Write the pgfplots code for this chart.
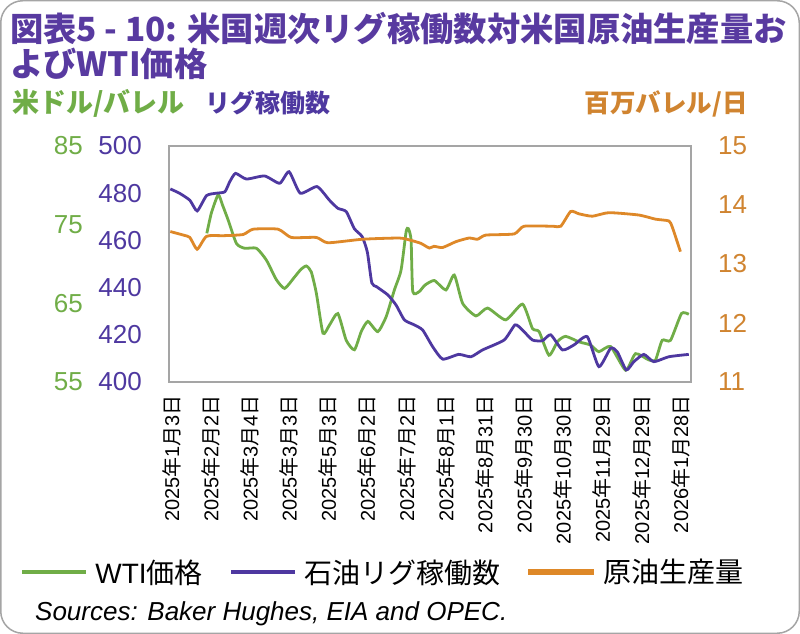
\documentclass[border=0pt]{standalone}
\usepackage{fontspec}
\usepackage{pgfplots}
\pgfplotsset{compat=1.18}
\setmainfont{Liberation Sans}
\newfontfamily\cjk{Noto Sans CJK JP}

\definecolor{wtigreen}{RGB}{112,173,71}
\definecolor{rigpurple}{RGB}{78,56,160}
\definecolor{titlepurple}{RGB}{88,58,160}
\definecolor{prodorange}{RGB}{222,136,40}
\definecolor{labelorange}{RGB}{208,132,48}
\definecolor{framegray}{RGB}{165,165,165}

% date label: year, month, day
\newcommand{\dt}[3]{#1{\cjk 年}#2{\cjk 月}#3{\cjk 日}}

\pgfplotsset{
  base/.style={
    at={(169bp,252bp)}, anchor=south west,
    scale only axis, width=522bp, height=236bp,
    xmin=-2, xmax=398,
    major tick length=0pt,
    /pgf/number format/assume math mode=true,
    /pgf/number format/1000 sep={},
  },
  series/.style={line width=2.8bp, smooth, tension=0.35},
}

\begin{document}
\begin{tikzpicture}
\draw[draw=framegray, line width=1.5bp, rounded corners=22bp, fill=white]
  (0.75bp,0.75bp) rectangle (799.25bp,633.25bp);

% title
\node[anchor=base west, inner sep=0pt, text=titlepurple] at (10bp,592bp)
  {\cjk\bfseries\fontsize{33.3bp}{37bp}\selectfont 図表5 - 10: 米国週次リグ稼働数対米国原油生産量お};
\node[anchor=base west, inner sep=0pt, text=titlepurple] at (10bp,557bp)
  {\cjk\bfseries\fontsize{33.3bp}{37bp}\selectfont よびWTI価格};

% unit labels
\node[anchor=base west, inner sep=0pt, text=wtigreen] at (12bp,521bp)
  {\cjk\bfseries\fontsize{27bp}{30bp}\selectfont 米ドル/バレル};
\node[anchor=base west, inner sep=0pt, text=rigpurple] at (205bp,521bp)
  {\cjk\bfseries\fontsize{25bp}{28bp}\selectfont リグ稼働数};
\node[anchor=base east, inner sep=0pt, text=labelorange] at (748bp,521bp)
  {\cjk\bfseries\fontsize{25.5bp}{28bp}\selectfont 百万バレル/日};

% WTI price, USD per barrel
\begin{axis}[base,
  axis x line=none, axis y line*=left,
  y axis line style={draw=none},
  ymin=55, ymax=85, ytick={55,65,75,85},
  yticklabel style={text=wtigreen, anchor=east, inner sep=0pt,
    font=\fontsize{26bp}{28bp}\selectfont},
  yticklabel shift=86bp,
]
\addplot[series, wtigreen] coordinates {
(27,73.9) (30.5,76.5) (35.7,78.8) (39,77.5) (43.3,75.6) (49.7,72.6)
(56,72.0) (65,72.0) (72.6,70.5) (80.3,68.0) (86.6,66.9) (94,68.3)
(99,69.3) (103.2,69.75) (107,69.0) (110.9,66.3) (116,61.2) (121,62.25)
(127.4,63.7) (133.8,60.3) (140.1,59.1) (145.3,61.4) (150.4,62.7)
(158,61.4) (164.4,63.3) (170.7,66.7) (175.8,69.2) (179.7,74.1)
(181.4,74.5) (183.5,73.05) (184.8,66.5) (189.8,66.5) (194,67.3)
(201.3,67.9) (210.2,66.7) (216.6,68.6) (223,65.0) (233.2,63.4)
(242.1,64.4) (256,62.9) (268.9,64.9) (276.5,61.8) (281.6,61.4)
(289.2,58.4) (296,60.2) (302,60.8) (312.2,60.1) (321,59.7)
(327.4,58.85) (336.4,59.5) (347.9,56.5) (355.5,58.6) (365.7,57.8)
(370.8,57.8) (375.9,60.3) (382.3,60.3) (390.7,63.7) (396.3,63.6)
};
\end{axis}

% oil rig count
\begin{axis}[base,
  axis line style={draw=framegray, line width=1.5bp},
  ymin=400, ymax=500, ytick={400,420,...,500},
  yticklabel style={text=rigpurple, anchor=east, inner sep=0pt,
    font=\fontsize{26bp}{28bp}\selectfont},
  yticklabel shift=27bp,
  xtick={0,30,...,390},
  xticklabels={\dt{2025}{1}{3},\dt{2025}{2}{2},\dt{2025}{3}{4},
    \dt{2025}{3}{3},\dt{2025}{5}{3},\dt{2025}{6}{2},\dt{2025}{7}{2},
    \dt{2025}{8}{1},\dt{2025}{8}{31},\dt{2025}{9}{30},\dt{2025}{10}{30},
    \dt{2025}{11}{29},\dt{2025}{12}{29},\dt{2026}{1}{28}},
  xticklabel style={rotate=90, anchor=east, inner sep=0pt,
    font=\fontsize{20bp}{22bp}\selectfont},
  xticklabel shift=13bp,
]
\addplot[series, rigpurple] coordinates {
(-1,481.8) (6,480) (14,477) (19.6,472.5) (26.8,479) (34.4,480)
(40.8,480.6) (44.6,484.9) (49,488.4) (57.3,486) (71.3,487.3)
(82.8,484.2) (90,489.1) (98.6,480) (111.4,482.8) (121,477)
(127.4,473.6) (133.8,472.2) (140,465) (146,461.6) (150,455)
(153.4,442) (157,440.4) (165.7,436.9) (172,432.6) (178.4,426.3)
(186,424.2) (192.4,422) (200,415) (207.7,409.7) (220,411.7)
(229.4,410.7) (238.3,413.6) (254.8,417.8) (263.2,424.2) (268.9,422)
(276.5,417.8) (284.2,417.5) (290.5,420) (299.5,413.6) (308.3,415.7)
(318.5,419.2) (327.4,406.5) (336.4,414.3) (341.5,412.8) (348.4,405.1)
(354.2,408.6) (361.9,411.7) (369.5,408.6) (381,410.7) (396.3,411.7)
};
\end{axis}

% US crude oil production, million barrels per day
\begin{axis}[base,
  axis x line=none, axis y line*=right,
  y axis line style={draw=none},
  ymin=11, ymax=15, ytick={11,...,15},
  yticklabel style={text=labelorange, anchor=west, inner sep=0pt,
    font=\fontsize{26bp}{28bp}\selectfont},
  yticklabel shift=27bp,
  legend style={at={(-0.282,-0.805)}, anchor=west, draw=none, fill=none,
    legend columns=3, inner sep=0pt,
    font=\fontsize{28bp}{30bp}\selectfont,
    nodes={inner sep=0pt},
    /tikz/every odd column/.append style={column sep=10bp},
    /tikz/every even column/.append style={column sep=28bp}},
  legend image code/.code={\fill[#1] (0bp,-1.4bp) rectangle (63bp,1.4bp);},
]
\addlegendimage{wtigreen}
\addlegendentry{WTI{\cjk 価格}}
\addlegendimage{rigpurple}
\addlegendentry{{\cjk 石油リグ稼働数}}
\addplot[series, prodorange] coordinates {
(-1,13.55) (9,13.49) (14,13.45) (19.6,13.25) (26.8,13.47) (40,13.48)
(54.8,13.50) (62.5,13.59) (81.6,13.59) (91.7,13.45) (110.9,13.45)
(119.8,13.36) (146.5,13.42) (174.6,13.44) (183.5,13.40) (191,13.35)
(197.5,13.27) (201,13.30) (207.7,13.28) (218,13.38) (228,13.44)
(234.5,13.42) (240.8,13.49) (262.5,13.51) (270,13.64) (291.8,13.64)
(298.2,13.64) (305.8,13.89) (312.2,13.85) (322.4,13.81) (335.1,13.87)
(358,13.83) (370.8,13.76) (381,13.73) (383.6,13.63) (389.9,13.21)
};
\addlegendentry{{\cjk 原油生産量}}
\end{axis}

\node[anchor=base west, inner sep=0pt] at (35bp,14bp)
  {\itshape\fontsize{26bp}{28bp}\selectfont Sources: Baker Hughes, EIA and OPEC.};
\end{tikzpicture}
\end{document}
